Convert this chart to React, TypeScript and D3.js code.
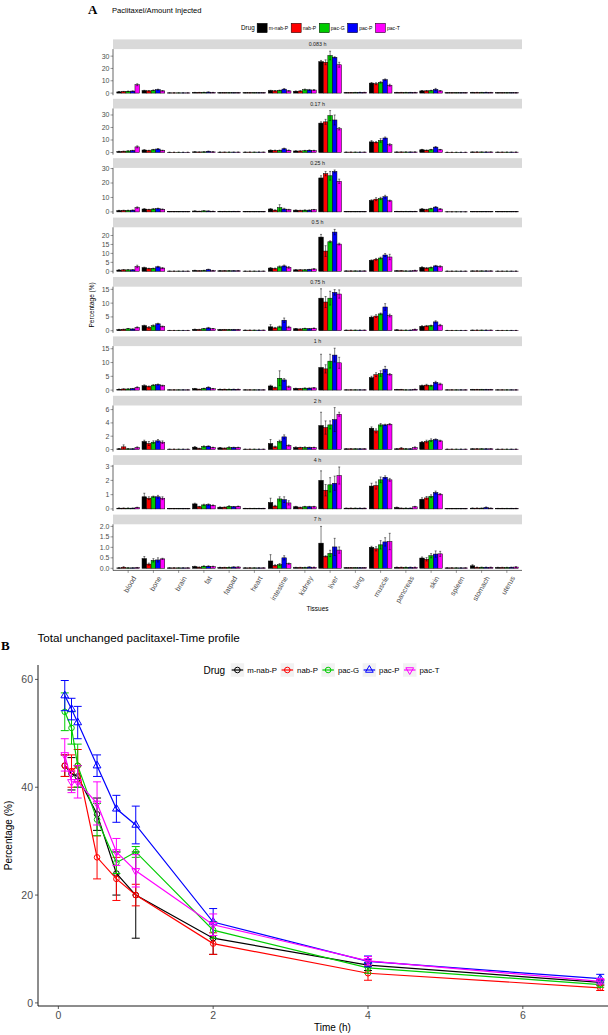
import React, { useMemo } from "react";
import * as d3 from "d3";

// ---------- DATA ----------
const tissues = ["blood", "bone", "brain", "fat", "fatpad", "heart", "intestine", "kidney", "liver", "lung", "muscle", "pancreas", "skin", "spleen", "stomach", "uterus"];
const drugs = ["m-nab-P", "nab-P", "pac-G", "pac-P", "pac-T"];
const drugColors = ["#000000", "#ff0000", "#00cc00", "#0000ff", "#ff00ff"];
const panelLabels = ["0.083 h", "0.17 h", "0.25 h", "0.5 h", "0.75 h", "1 h", "2 h", "4 h", "7 h"];
const panelTicks = [[0, 10, 20, 30], [0, 10, 20, 30], [0, 10, 20, 30], [0, 5, 10, 15, 20], [0, 5, 10, 15], [0, 5, 10, 15], [0, 2, 4, 6], [0, 1, 2, 3], [0, 0.5, 1, 1.5, 2]];
const panelTickFormat = ["d", "d", "d", "d", "d", "d", "d", "d", ".1f"];

// rows = tissues, cols = drugs
const mean0083 = [
  [1.0, 1.2, 1.5, 1.6, 6.8], [2.0, 1.8, 2.3, 2.8, 1.8], [0.2, 0.2, 0.2, 0.2, 0.2], [0.5, 0.5, 0.6, 0.8, 0.5],
  [0.3, 0.3, 0.3, 0.3, 0.3], [0.3, 0.3, 0.3, 0.3, 0.3], [2.0, 1.8, 2.2, 3.2, 1.8], [1.5, 1.7, 2.8, 2.6, 2.5],
  [25.5, 25.0, 30.5, 29.0, 23.0], [0.4, 0.4, 0.5, 0.6, 0.6], [8.1, 7.6, 8.7, 10.9, 6.4], [0.5, 0.5, 0.5, 0.5, 0.5],
  [1.8, 1.8, 2.0, 3.0, 1.8], [0.3, 0.3, 0.3, 0.3, 0.3], [0.5, 0.5, 0.5, 0.6, 0.5], [0.3, 0.3, 0.3, 0.3, 0.3],
];
const sd0083 = [
  [0.2, 0.2, 0.2, 0.2, 0.8], [0.3, 0.2, 0.3, 0.4, 0.3], [0.05, 0.05, 0.05, 0.05, 0.05], [0.1, 0.1, 0.1, 0.2, 0.1],
  [0.05, 0.05, 0.05, 0.05, 0.05], [0.05, 0.05, 0.05, 0.05, 0.05], [0.3, 0.3, 0.3, 0.5, 0.3], [0.3, 0.3, 0.5, 0.4, 0.4],
  [1.0, 2.0, 3.5, 0.5, 2.0], [0.1, 0.1, 0.1, 0.1, 0.1], [0.5, 0.8, 0.6, 0.6, 0.8], [0.1, 0.1, 0.1, 0.1, 0.1],
  [0.3, 0.3, 0.3, 0.8, 0.3], [0.05, 0.05, 0.05, 0.05, 0.05], [0.1, 0.1, 0.1, 0.1, 0.1], [0.05, 0.05, 0.05, 0.05, 0.05],
];
const mean017 = [
  [0.8, 1.0, 1.2, 1.5, 4.5], [2.0, 1.5, 2.2, 2.8, 1.6], [0.2, 0.2, 0.2, 0.2, 0.2], [0.5, 0.4, 0.5, 1.0, 0.5],
  [0.3, 0.3, 0.3, 0.3, 0.3], [0.3, 0.3, 0.3, 0.3, 0.3], [1.8, 1.6, 1.7, 3.0, 1.8], [1.2, 1.2, 1.4, 1.8, 1.5],
  [23.5, 24.5, 29.5, 26.0, 19.0], [0.3, 0.3, 0.3, 0.3, 0.3], [8.5, 8.2, 9.6, 11.6, 6.2], [0.4, 0.4, 0.4, 0.4, 0.4],
  [2.2, 1.8, 2.2, 4.3, 2.2], [0.2, 0.2, 0.2, 0.2, 0.2], [0.4, 0.4, 0.4, 0.4, 0.4], [0.3, 0.3, 0.3, 0.3, 0.3],
];
const sd017 = [
  [0.2, 0.2, 0.2, 0.3, 0.8], [0.3, 0.3, 0.3, 0.4, 0.3], [0.05, 0.05, 0.05, 0.05, 0.05], [0.1, 0.1, 0.1, 0.2, 0.1],
  [0.05, 0.05, 0.05, 0.05, 0.05], [0.05, 0.05, 0.05, 0.05, 0.05], [0.3, 0.3, 0.3, 0.5, 0.3], [0.2, 0.2, 0.3, 0.3, 0.3],
  [1.0, 2.0, 4.0, 4.0, 1.0], [0.05, 0.05, 0.05, 0.05, 0.05], [1.0, 0.5, 1.5, 0.8, 0.8], [0.1, 0.1, 0.1, 0.1, 0.1],
  [0.3, 0.3, 0.3, 0.5, 0.3], [0.05, 0.05, 0.05, 0.05, 0.05], [0.1, 0.1, 0.1, 0.1, 0.1], [0.05, 0.05, 0.05, 0.05, 0.05],
];
const mean025 = [
  [0.9, 1.0, 1.0, 1.2, 3.0], [2.0, 1.6, 2.0, 2.3, 1.8], [0.2, 0.2, 0.2, 0.2, 0.2], [0.6, 0.4, 0.7, 0.6, 0.4],
  [0.3, 0.3, 0.3, 0.3, 0.3], [0.2, 0.2, 0.2, 0.2, 0.2], [2.0, 1.2, 3.0, 2.0, 1.5], [1.2, 1.0, 1.2, 1.2, 1.5],
  [23.5, 26.5, 25.0, 28.0, 21.2], [0.2, 0.2, 0.2, 0.2, 0.2], [7.9, 8.8, 9.3, 10.5, 7.7], [0.3, 0.3, 0.3, 0.3, 0.3],
  [2.0, 1.5, 2.2, 3.3, 2.0], [0.1, 0.1, 0.1, 0.1, 0.1], [0.2, 0.2, 0.2, 0.2, 0.2], [0.2, 0.2, 0.2, 0.2, 0.2],
];
const sd025 = [
  [0.2, 0.2, 0.2, 0.2, 0.5], [0.3, 0.2, 0.3, 0.3, 0.3], [0.05, 0.05, 0.05, 0.05, 0.05], [0.1, 0.1, 0.1, 0.1, 0.1],
  [0.05, 0.05, 0.05, 0.05, 0.05], [0.05, 0.05, 0.05, 0.05, 0.05], [0.3, 0.2, 2.0, 0.5, 0.3], [0.2, 0.2, 0.2, 0.2, 0.2],
  [1.5, 1.5, 3.0, 1.0, 1.5], [0.05, 0.05, 0.05, 0.05, 0.05], [0.5, 1.0, 0.8, 1.0, 0.5], [0.05, 0.05, 0.05, 0.05, 0.05],
  [0.3, 0.3, 0.3, 0.4, 0.3], [0.05, 0.05, 0.05, 0.05, 0.05], [0.05, 0.05, 0.05, 0.05, 0.05], [0.05, 0.05, 0.05, 0.05, 0.05],
];
const mean05 = [
  [0.7, 0.8, 0.8, 0.8, 2.7], [2.0, 1.5, 1.6, 2.5, 1.8], [0.1, 0.1, 0.1, 0.1, 0.1], [0.5, 0.3, 0.5, 1.0, 0.4],
  [0.3, 0.3, 0.3, 0.3, 0.3], [0.1, 0.1, 0.1, 0.1, 0.1], [1.8, 1.5, 2.5, 3.0, 2.2], [0.8, 0.8, 0.8, 1.0, 1.3],
  [19.1, 11.3, 16.5, 21.9, 15.2], [0.2, 0.2, 0.2, 0.2, 0.2], [6.1, 6.7, 7.4, 9.1, 8.0], [0.3, 0.3, 0.2, 0.2, 0.5],
  [2.2, 1.8, 2.1, 3.0, 2.7], [0.1, 0.1, 0.1, 0.1, 0.1], [0.2, 0.2, 0.2, 0.2, 0.2], [0.1, 0.1, 0.1, 0.1, 0.1],
];
const sd05 = [
  [0.1, 0.2, 0.1, 0.1, 0.7], [0.3, 0.2, 0.2, 0.3, 0.3], [0.02, 0.02, 0.02, 0.02, 0.02], [0.1, 0.05, 0.1, 0.2, 0.1],
  [0.05, 0.05, 0.05, 0.05, 0.05], [0.02, 0.02, 0.02, 0.02, 0.02], [0.3, 0.3, 0.5, 0.5, 0.5], [0.1, 0.1, 0.1, 0.1, 0.2],
  [1.5, 3.0, 0.5, 1.5, 0.5], [0.05, 0.05, 0.05, 0.05, 0.05], [0.3, 0.5, 0.5, 0.8, 1.5], [0.05, 0.05, 0.05, 0.05, 0.1],
  [0.3, 0.3, 0.3, 0.3, 0.4], [0.02, 0.02, 0.02, 0.02, 0.02], [0.05, 0.05, 0.05, 0.05, 0.05], [0.02, 0.02, 0.02, 0.02, 0.02],
];
const mean075 = [
  [0.4, 0.5, 0.7, 0.6, 1.2], [1.8, 1.2, 1.8, 2.5, 1.5], [0.1, 0.1, 0.1, 0.1, 0.1], [0.5, 0.4, 0.7, 1.0, 0.7],
  [0.4, 0.4, 0.4, 0.4, 0.4], [0.2, 0.2, 0.2, 0.2, 0.2], [1.4, 1.0, 1.4, 3.8, 1.3], [0.7, 0.6, 0.8, 0.7, 0.9],
  [11.8, 10.4, 11.8, 13.9, 13.3], [0.2, 0.2, 0.2, 0.2, 0.2], [4.9, 5.3, 6.1, 8.6, 5.5], [0.3, 0.2, 0.2, 0.2, 0.5],
  [1.6, 1.7, 1.8, 3.2, 2.0], [0.1, 0.1, 0.1, 0.1, 0.1], [0.2, 0.2, 0.2, 0.2, 0.2], [0.1, 0.1, 0.1, 0.1, 0.1],
];
const sd075 = [
  [0.1, 0.1, 0.1, 0.1, 0.2], [0.2, 0.3, 0.3, 0.2, 0.2], [0.02, 0.02, 0.02, 0.02, 0.02], [0.1, 0.1, 0.1, 0.2, 0.1],
  [0.05, 0.05, 0.05, 0.05, 0.05], [0.02, 0.02, 0.02, 0.02, 0.02], [0.8, 0.2, 0.3, 0.8, 0.3], [0.1, 0.1, 0.1, 0.1, 0.1],
  [3.4, 2.0, 2.5, 1.0, 1.5], [0.02, 0.02, 0.02, 0.02, 0.02], [0.4, 0.5, 0.3, 1.2, 0.5], [0.05, 0.05, 0.05, 0.05, 0.1],
  [0.2, 0.2, 0.2, 0.4, 0.3], [0.02, 0.02, 0.02, 0.02, 0.02], [0.05, 0.05, 0.05, 0.05, 0.05], [0.02, 0.02, 0.02, 0.02, 0.02],
];
const mean1 = [
  [0.3, 0.4, 0.4, 0.5, 1.0], [1.6, 1.3, 1.8, 2.0, 1.6], [0.1, 0.1, 0.1, 0.1, 0.1], [0.5, 0.3, 0.6, 1.0, 0.5],
  [0.3, 0.3, 0.3, 0.3, 0.3], [0.1, 0.1, 0.1, 0.1, 0.1], [1.5, 0.9, 4.3, 3.7, 1.2], [0.6, 0.5, 0.7, 0.7, 0.8],
  [8.2, 7.7, 10.5, 12.7, 9.9], [0.1, 0.1, 0.1, 0.1, 0.1], [4.5, 5.6, 6.0, 7.6, 5.7], [0.2, 0.2, 0.1, 0.1, 0.3],
  [1.6, 1.8, 1.6, 2.8, 2.2], [0.1, 0.1, 0.1, 0.1, 0.1], [0.2, 0.2, 0.2, 0.2, 0.2], [0.1, 0.1, 0.1, 0.1, 0.1],
];
const sd1 = [
  [0.1, 0.1, 0.1, 0.1, 0.2], [0.3, 0.2, 0.2, 0.2, 0.2], [0.02, 0.02, 0.02, 0.02, 0.02], [0.1, 0.05, 0.1, 0.2, 0.1],
  [0.05, 0.05, 0.05, 0.05, 0.05], [0.02, 0.02, 0.02, 0.02, 0.02], [0.3, 0.2, 2.7, 0.5, 0.3], [0.1, 0.1, 0.1, 0.1, 0.1],
  [4.8, 1.5, 2.5, 2.5, 2.0], [0.02, 0.02, 0.02, 0.02, 0.02], [0.5, 0.7, 1.0, 1.0, 0.3], [0.05, 0.05, 0.02, 0.02, 0.05],
  [0.2, 0.3, 0.2, 0.4, 0.3], [0.02, 0.02, 0.02, 0.02, 0.02], [0.05, 0.05, 0.05, 0.05, 0.05], [0.02, 0.02, 0.02, 0.02, 0.02],
];
const mean2 = [
  [0.1, 0.4, 0.1, 0.1, 0.3], [1.2, 0.9, 1.1, 1.3, 1.1], [0.05, 0.05, 0.05, 0.05, 0.05], [0.35, 0.15, 0.45, 0.5, 0.3],
  [0.25, 0.2, 0.3, 0.3, 0.3], [0.05, 0.05, 0.05, 0.05, 0.05], [0.9, 0.4, 1.2, 1.9, 0.6], [0.3, 0.3, 0.3, 0.3, 0.3],
  [3.6, 3.3, 3.7, 4.5, 5.3], [0.1, 0.1, 0.1, 0.1, 0.1], [3.2, 2.8, 3.7, 3.7, 3.8], [0.1, 0.2, 0.1, 0.1, 0.3],
  [1.1, 1.2, 1.4, 1.5, 1.3], [0.05, 0.05, 0.05, 0.05, 0.05], [0.1, 0.1, 0.1, 0.1, 0.1], [0.05, 0.05, 0.05, 0.05, 0.05],
];
const sd2 = [
  [0.05, 0.3, 0.05, 0.05, 0.1], [0.2, 0.3, 0.2, 0.2, 0.2], [0.01, 0.01, 0.01, 0.01, 0.01], [0.1, 0.05, 0.1, 0.05, 0.05],
  [0.05, 0.05, 0.1, 0.05, 0.05], [0.01, 0.01, 0.01, 0.01, 0.01], [0.6, 0.1, 0.2, 0.3, 0.1], [0.1, 0.05, 0.1, 0.05, 0.05],
  [2.0, 1.0, 0.6, 1.8, 0.3], [0.02, 0.02, 0.02, 0.02, 0.02], [0.2, 0.3, 0.2, 0.1, 0.1], [0.05, 0.1, 0.05, 0.05, 0.1],
  [0.1, 0.2, 0.2, 0.1, 0.1], [0.01, 0.01, 0.01, 0.01, 0.01], [0.02, 0.02, 0.02, 0.02, 0.02], [0.01, 0.01, 0.01, 0.01, 0.01],
];
const mean4 = [
  [0.05, 0.05, 0.05, 0.05, 0.1], [0.85, 0.75, 0.85, 0.85, 0.75], [0.02, 0.02, 0.02, 0.02, 0.02], [0.35, 0.15, 0.28, 0.3, 0.25],
  [0.12, 0.12, 0.18, 0.15, 0.18], [0.03, 0.03, 0.03, 0.03, 0.03], [0.45, 0.2, 0.7, 0.65, 0.42], [0.15, 0.1, 0.15, 0.15, 0.15],
  [2.0, 1.31, 1.69, 1.8, 2.34], [0.05, 0.05, 0.05, 0.05, 0.05], [1.6, 1.64, 2.04, 2.22, 2.04], [0.1, 0.05, 0.05, 0.05, 0.15],
  [0.68, 0.77, 0.89, 1.15, 1.03], [0.02, 0.02, 0.02, 0.02, 0.02], [0.05, 0.05, 0.05, 0.1, 0.05], [0.03, 0.03, 0.03, 0.03, 0.03],
];
const sd4 = [
  [0.02, 0.02, 0.02, 0.02, 0.02], [0.25, 0.1, 0.05, 0.1, 0.1], [0.01, 0.01, 0.01, 0.01, 0.01], [0.05, 0.03, 0.05, 0.05, 0.03],
  [0.02, 0.02, 0.04, 0.02, 0.02], [0.01, 0.01, 0.01, 0.01, 0.01], [0.3, 0.05, 0.15, 0.2, 0.15], [0.03, 0.03, 0.03, 0.03, 0.03],
  [0.67, 0.4, 0.5, 0.5, 0.6], [0.01, 0.01, 0.01, 0.01, 0.01], [0.2, 0.25, 0.2, 0.1, 0.1], [0.03, 0.02, 0.02, 0.02, 0.03],
  [0.1, 0.1, 0.1, 0.1, 0.05], [0.01, 0.01, 0.01, 0.01, 0.01], [0.02, 0.02, 0.02, 0.04, 0.02], [0.01, 0.01, 0.01, 0.01, 0.01],
];
const mean7 = [
  [0.02, 0.05, 0.02, 0.02, 0.03], [0.46, 0.2, 0.38, 0.4, 0.45], [0.02, 0.02, 0.02, 0.02, 0.02], [0.08, 0.05, 0.1, 0.1, 0.08],
  [0.04, 0.04, 0.05, 0.06, 0.06], [0.02, 0.02, 0.02, 0.02, 0.02], [0.35, 0.14, 0.18, 0.5, 0.22], [0.04, 0.04, 0.04, 0.06, 0.05],
  [1.2, 0.57, 0.71, 1.02, 0.87], [0.03, 0.03, 0.03, 0.03, 0.03], [1.0, 0.93, 1.12, 1.26, 1.28], [0.05, 0.05, 0.05, 0.05, 0.05],
  [0.49, 0.43, 0.6, 0.68, 0.69], [0.02, 0.02, 0.02, 0.02, 0.02], [0.12, 0.05, 0.05, 0.05, 0.05], [0.04, 0.04, 0.04, 0.05, 0.06],
];
const sd7 = [
  [0.01, 0.03, 0.01, 0.01, 0.01], [0.1, 0.05, 0.08, 0.1, 0.03], [0.005, 0.005, 0.005, 0.005, 0.005], [0.02, 0.02, 0.02, 0.02, 0.02],
  [0.01, 0.01, 0.01, 0.01, 0.01], [0.005, 0.005, 0.005, 0.005, 0.005], [0.3, 0.03, 0.05, 0.1, 0.03], [0.01, 0.01, 0.01, 0.01, 0.01],
  [0.8, 0.03, 0.15, 0.41, 0.15], [0.005, 0.005, 0.005, 0.005, 0.005], [0.05, 0.1, 0.2, 0.2, 0.39], [0.01, 0.01, 0.01, 0.01, 0.01],
  [0.05, 0.08, 0.1, 0.15, 0.12], [0.005, 0.005, 0.005, 0.005, 0.005], [0.05, 0.01, 0.01, 0.01, 0.01], [0.01, 0.01, 0.01, 0.01, 0.02],
];
const panelMeans = [mean0083, mean017, mean025, mean05, mean075, mean1, mean2, mean4, mean7];
const panelSds = [sd0083, sd017, sd025, sd05, sd075, sd1, sd2, sd4, sd7];

// Panel B: total unchanged paclitaxel
const times = [0.083, 0.17, 0.25, 0.5, 0.75, 1, 2, 4, 7];
const totalMNabP = [44, 42.5, 42, 35, 24, 20, 12, 7, 3.8];
const totalNabP = [44, 43, 44, 27, 23, 20, 11, 5.5, 2.8];
const totalPacG = [54, 51, 44, 34, 26, 28, 13.5, 6.5, 3.4];
const totalPacP = [57, 54.5, 52, 44, 36, 33, 15, 7.7, 4.5];
const totalPacT = [46, 41, 41, 37, 28, 24.5, 14.5, 7.8, 4.0];
const sdMNabP = [2, 3, 2, 3, 4, 8, 3, 1, 0.5];
const sdNabP = [2, 3, 3, 4, 4, 2, 2, 1.3, 0.5];
const sdPacG = [3.5, 3, 4, 3, 2, 1, 1.5, 1, 0.5];
const sdPacP = [2.8, 2, 3, 2, 2.5, 3.5, 2.5, 1, 0.8];
const sdPacT = [3, 2, 3, 4, 2.5, 3, 2, 0.8, 0.5];
const totalMeans = [totalMNabP, totalNabP, totalPacG, totalPacP, totalPacT];
const totalSds = [sdMNabP, sdNabP, sdPacG, sdPacP, sdPacT];
const xTicksB = [0, 2, 4, 6];
const yTicksB = [0, 20, 40, 60];

// ---------- LAYOUT ----------
const W = 608, H = 1035;
const SANS = "'Liberation Sans', Arial, sans-serif";
const SERIF = "'Liberation Serif', 'Times New Roman', serif";
const AX0 = 113, AX1 = 522;
const PTOP0 = 49.1, PSTEP = 59.4, PH = 46.1, STRIPH = 9.7;

const BX0 = 38, BX1 = 627, BY0 = 665, BY1 = 1006;

export default function App() {
  const measure = useMemo(() => {
    const ctx = document.createElement("canvas").getContext("2d");
    return (s: string, font: string) => {
      if (!ctx) return s.length * 5;
      ctx.font = font;
      return ctx.measureText(s).width;
    };
  }, []);

  const x = d3.scalePoint<string>().domain(tissues).range([AX0, AX1]).padding(0.6);
  const step = x.step();
  const inner = d3.scaleBand<string>().domain(drugs).range([-0.45 * step, 0.45 * step]);
  const bw = inner.bandwidth();

  const panels = panelMeans.map((means, i) => {
    const sds = panelSds[i];
    const top = PTOP0 + i * PSTEP;
    const mx = d3.max(means.flatMap((row, ti) => row.map((v, di) => v + sds[ti][di]))) as number;
    const y = d3.scaleLinear().domain([-0.05 * mx, 1.05 * mx]).range([top + PH, top]);
    const fmt = d3.format(panelTickFormat[i]);
    return (
      <g key={i}>
        <rect x={AX0} y={top - STRIPH} width={AX1 - AX0} height={STRIPH} fill="#d9d9d9" />
        <text x={(AX0 + AX1) / 2} y={top - STRIPH / 2} dy="0.35em" textAnchor="middle" fontSize={5.3} fill="#1a1a1a" fontFamily={SANS}>{panelLabels[i]}</text>
        {means.map((row, ti) =>
          row.map((v, di) => {
            const cx = (x(tissues[ti]) as number) + (inner(drugs[di]) as number);
            return (
              <rect key={`b${ti}-${di}`} x={cx} y={y(v)} width={bw} height={y(0) - y(v)} fill={drugColors[di]} stroke="#000" strokeWidth={0.5} />
            );
          })
        )}
        {means.map((row, ti) =>
          row.map((v, di) => {
            const c = (x(tissues[ti]) as number) + (inner(drugs[di]) as number) + bw / 2;
            const s = sds[ti][di];
            const y1 = y(v + s), y2 = y(Math.max(0, v - s));
            return (
              <g key={`e${ti}-${di}`} stroke="#000" strokeWidth={0.5}>
                <line x1={c} x2={c} y1={y1} y2={y2} />
                <line x1={c - 1} x2={c + 1} y1={y1} y2={y1} />
                <line x1={c - 1} x2={c + 1} y1={y2} y2={y2} />
              </g>
            );
          })
        )}
        <line x1={AX0} x2={AX0} y1={top} y2={top + PH} stroke="#000" strokeWidth={0.6} />
        {panelTicks[i].map((t) => (
          <g key={`t${t}`}>
            <line x1={AX0 - 2.5} x2={AX0} y1={y(t)} y2={y(t)} stroke="#333" strokeWidth={0.5} />
            <text x={AX0 - 3.5} y={y(t)} dy="0.35em" textAnchor="end" fontSize={7} fill="#4d4d4d" fontFamily={SANS}>{fmt(t)}</text>
          </g>
        ))}
        {i === panelMeans.length - 1 && (
          <g>
            <line x1={AX0} x2={AX1} y1={top + PH} y2={top + PH} stroke="#000" strokeWidth={0.6} />
            {tissues.map((t) => {
              const tx = x(t) as number;
              const ty = top + PH;
              return (
                <g key={t}>
                  <line x1={tx} x2={tx} y1={ty} y2={ty + 2.5} stroke="#333" strokeWidth={0.5} />
                  <text x={tx + 4} y={ty + 5} dy="0.7em" textAnchor="end" transform={`rotate(-60, ${tx + 4}, ${ty + 5})`} fontSize={7.2} fill="#4d4d4d" fontFamily={SANS}>{t}</text>
                </g>
              );
            })}
          </g>
        )}
      </g>
    );
  });

  // Legend A
  const legA: JSX.Element[] = [];
  {
    let lx = 241;
    const ly = 28;
    legA.push(<text key="dt" x={lx} y={ly} dy="0.35em" fontSize={6.3} fill="#000" fontFamily={SANS}>Drug</text>);
    lx += measure("Drug", `6.3px ${SANS}`) + 2.5;
    drugs.forEach((d, di) => {
      legA.push(<rect key={`k${d}`} x={lx} y={ly - 4.7} width={10} height={9.4} fill={drugColors[di]} stroke="#000" strokeWidth={0.5} />);
      lx += 11.5;
      legA.push(<text key={`l${d}`} x={lx} y={ly} dy="0.35em" fontSize={5.1} fill="#000" fontFamily={SANS}>{d}</text>);
      lx += measure(d, `5.1px ${SANS}`) + 3;
    });
  }

  // Panel B
  const tmin = d3.min(times) as number, tmax = d3.max(times) as number;
  const tpad = (tmax - tmin) * 0.05;
  const xB = d3.scaleLinear().domain([tmin - tpad, tmax + tpad]).range([BX0, BX1]);
  const lo = d3.min(totalMeans.flatMap((m, di) => m.map((v, k) => v - totalSds[di][k]))) as number;
  const hi = d3.max(totalMeans.flatMap((m, di) => m.map((v, k) => v + totalSds[di][k]))) as number;
  const ypad = (hi - lo) * 0.05;
  const yB = d3.scaleLinear().domain([lo - ypad, hi + ypad]).range([BY1, BY0]);
  const lineGen = d3.line<number>().x((_, k) => xB(times[k])).y((v) => yB(v));

  const marker = (di: number, cx: number, cy: number, key: string) => {
    const col = drugColors[di];
    if (di === 3 || di === 4) {
      const p = d3.symbol().type(d3.symbolTriangle).size(26)() as string;
      return <path key={key} d={p} transform={`translate(${cx},${cy})${di === 4 ? " rotate(180)" : ""}`} fill="none" stroke={col} strokeWidth={1} />;
    }
    return <circle key={key} cx={cx} cy={cy} r={2.8} fill="none" stroke={col} strokeWidth={1} />;
  };

  const seriesB = totalMeans.map((m, di) => (
    <g key={drugs[di]}>
      <path d={lineGen(m) as string} fill="none" stroke={drugColors[di]} strokeWidth={1.2} />
      {m.map((v, k) => {
        const cx = xB(times[k]);
        const s = totalSds[di][k];
        const y1 = yB(v + s), y2 = yB(v - s);
        return (
          <g key={k} stroke={drugColors[di]} strokeWidth={1}>
            <line x1={cx} x2={cx} y1={y1} y2={y2} />
            <line x1={cx - 4} x2={cx + 4} y1={y1} y2={y1} />
            <line x1={cx - 4} x2={cx + 4} y1={y2} y2={y2} />
          </g>
        );
      })}
      {m.map((v, k) => marker(di, xB(times[k]), yB(v), `m${k}`))}
    </g>
  ));

  const legB: JSX.Element[] = [];
  {
    let lx = 203.5;
    const ly = 670;
    legB.push(<text key="dt" x={lx} y={ly} dy="0.35em" fontSize={10} fill="#000" fontFamily={SANS}>Drug</text>);
    lx += measure("Drug", `10px ${SANS}`) + 5.5;
    drugs.forEach((d, di) => {
      const ks = 13.5;
      legB.push(
        <g key={`k${d}`}>
          <rect x={lx} y={ly - ks / 2} width={ks} height={ks} fill="#f2f2f2" />
          <line x1={lx + 1} x2={lx + ks - 1} y1={ly} y2={ly} stroke={drugColors[di]} strokeWidth={1.2} />
          {marker(di, lx + ks / 2, ly, `lm${d}`)}
        </g>
      );
      lx += ks + 3;
      legB.push(<text key={`l${d}`} x={lx} y={ly} dy="0.35em" fontSize={7.8} fill="#000" fontFamily={SANS}>{d}</text>);
      lx += measure(d, `7.8px ${SANS}`) + 3.5;
    });
  }

  return (
    <svg width={W} height={H} viewBox={`0 0 ${W} ${H}`} style={{ position: "absolute", left: 0, top: 0, background: "#fff" }}>
      <rect x={0} y={0} width={W} height={H} fill="#fff" />
      {/* Panel A */}
      <text x={88} y={13.6} fontSize={13} fontWeight="bold" fontFamily={SERIF}>A</text>
      <text x={112} y={12.5} fontSize={7.6} fill="#000" fontFamily={SANS}>Paclitaxel/Amount Injected</text>
      {legA}
      {panels}
      <text transform={`translate(94, ${(PTOP0 - STRIPH + PTOP0 + 8 * PSTEP + PH) / 2}) rotate(-90)`} textAnchor="middle" fontSize={6.5} fill="#000" fontFamily={SANS}>Percentage (%)</text>
      <text x={(AX0 + AX1) / 2} y={611} textAnchor="middle" fontSize={6.5} fill="#000" fontFamily={SANS}>Tissues</text>

      {/* Panel B */}
      <text x={1} y={650} fontSize={13} fontWeight="bold" fontFamily={SERIF}>B</text>
      <text x={37.5} y={642} fontSize={11.7} fill="#000" fontFamily={SANS}>Total unchanged paclitaxel-Time profile</text>
      {legB}
      {seriesB}
      <line x1={BX0} x2={BX0} y1={BY0} y2={BY1} stroke="#000" strokeWidth={0.9} />
      <line x1={BX0} x2={BX1} y1={BY1} y2={BY1} stroke="#000" strokeWidth={0.9} />
      {yTicksB.map((t) => (
        <g key={`yb${t}`}>
          <line x1={BX0 - 3} x2={BX0} y1={yB(t)} y2={yB(t)} stroke="#333" strokeWidth={0.8} />
          <text x={BX0 - 5} y={yB(t)} dy="0.35em" textAnchor="end" fontSize={10.5} fill="#4d4d4d" fontFamily={SANS}>{t}</text>
        </g>
      ))}
      {xTicksB.map((t) => (
        <g key={`xb${t}`}>
          <line x1={xB(t)} x2={xB(t)} y1={BY1} y2={BY1 + 3} stroke="#333" strokeWidth={0.8} />
          <text x={xB(t)} y={BY1 + 5} dy="0.75em" textAnchor="middle" fontSize={10.5} fill="#4d4d4d" fontFamily={SANS}>{t}</text>
        </g>
      ))}
      <text transform={`translate(12, ${(BY0 + BY1) / 2}) rotate(-90)`} textAnchor="middle" fontSize={10} fill="#000" fontFamily={SANS}>Percentage (%)</text>
      <text x={(BX0 + BX1) / 2} y={1031} textAnchor="middle" fontSize={10} fill="#000" fontFamily={SANS}>Time (h)</text>
    </svg>
  );
}
